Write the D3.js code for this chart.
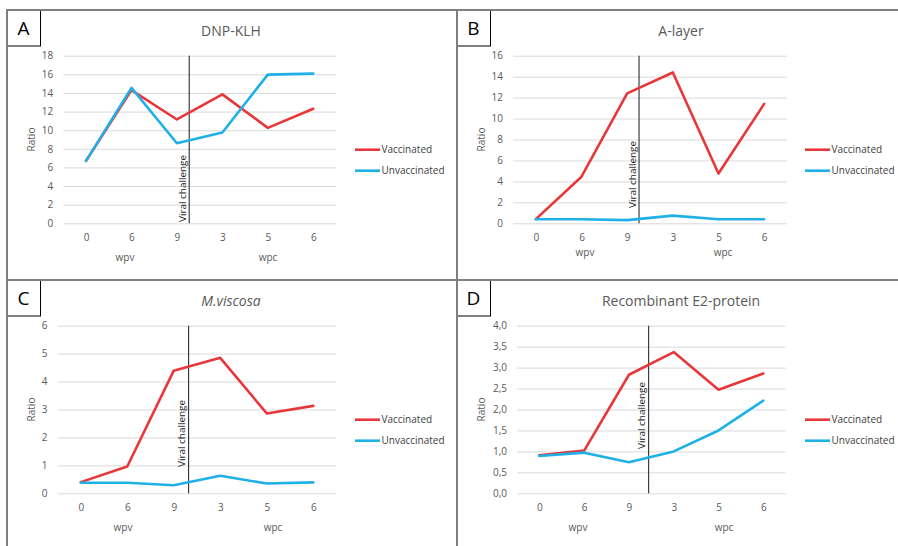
<!DOCTYPE html>
<html>
<head>
<meta charset="utf-8">
<script src="https://cdn.jsdelivr.net/npm/d3@7"></script>
<style>
  html, body { margin: 0; padding: 0; background: #fff; }
  svg { display: block; font-family: "Open Sans", "Liberation Sans", sans-serif; }
</style>
</head>
<body>
<svg id="chart" width="898" height="546"></svg>
<script>
// Sampling points: weeks post vaccination (wpv) then weeks post challenge (wpc)
const categories = ["0", "6", "9", "3", "5", "6"];
const seriesNames = ["Vaccinated", "Unvaccinated"];

// Antibody ratio per antigen
const dnpVaccinated = [6.7, 14.3, 11.15, 13.85, 10.25, 12.3];
const dnpUnvaccinated = [6.7, 14.55, 8.6, 9.75, 15.97, 16.07];
const alayerVaccinated = [0.4, 4.45, 12.4, 14.4, 4.75, 11.4];
const alayerUnvaccinated = [0.38, 0.38, 0.3, 0.73, 0.38, 0.38];
const viscosaVaccinated = [0.4, 0.96, 4.39, 4.85, 2.86, 3.13];
const viscosaUnvaccinated = [0.38, 0.38, 0.29, 0.63, 0.35, 0.39];
const e2Vaccinated = [0.91, 1.02, 2.83, 3.37, 2.47, 2.86];
const e2Unvaccinated = [0.89, 0.97, 0.74, 1.0, 1.5, 2.21];

// Axis maxima and tick steps
const yMax = [18, 16, 6, 4];
const yStep = [2, 2, 1, 0.5];

const panelLetters = ["A", "B", "C", "D"];
const panelTitles = ["DNP-KLH", "A-layer", "M.viscosa", "Recombinant E2-protein"];

const colors = { Vaccinated: "#e8373a", Unvaccinated: "#1fb0e8" };

// Layout of each panel (relative to its frame corner)
const layouts = [
  { ox: 7,   oy: 10,  left: 56.3, right: 329,   challengeAt: 2.27, challengeTextBottom: 212, wpvX: 118, wpcX: 261, axisTitleY: 247, italic: false, fmt: d3.format("d") },
  { ox: 457, oy: 10,  left: 56,   right: 330,   challengeAt: 2.26, challengeTextBottom: 198, wpvX: 128, wpcX: 266, axisTitleY: 242, italic: false, fmt: d3.format("d") },
  { ox: 7,   oy: 280, left: 50.5, right: 329.5, challengeAt: 2.32, challengeTextBottom: 187, wpvX: 116, wpcX: 266, axisTitleY: 247, italic: true,  fmt: d3.format("d") },
  { ox: 457, oy: 280, left: 60,   right: 328.7, challengeAt: 2.44, challengeTextBottom: 169, wpvX: 121, wpcX: 267, axisTitleY: 247, italic: false, fmt: v => d3.format(".1f")(v).replace(".", ",") }
];
const plotTop = 45.7, plotBottom = 213.3;

const series = [
  [dnpVaccinated, dnpUnvaccinated],
  [alayerVaccinated, alayerUnvaccinated],
  [viscosaVaccinated, viscosaUnvaccinated],
  [e2Vaccinated, e2Unvaccinated]
];

const svg = d3.select("#chart");

layouts.forEach((L, p) => {
  const g = svg.append("g").attr("transform", `translate(${L.ox},${L.oy})`);

  const x = d3.scalePoint().domain(d3.range(categories.length)).range([L.left, L.right]).padding(0.5);
  const y = d3.scaleLinear().domain([0, yMax[p]]).range([plotBottom, plotTop]);
  const ticks = d3.range(0, yMax[p] + yStep[p] / 2, yStep[p]);

  // Horizontal gridlines
  g.append("g")
    .attr("transform", `translate(${L.left},0)`)
    .call(d3.axisLeft(y).tickValues(ticks).tickSize(-(L.right - L.left)).tickFormat(""))
    .call(a => a.select(".domain").remove())
    .call(a => a.selectAll("line").attr("stroke", "#d9d9d9").attr("stroke-width", 1));

  // Y tick labels
  g.append("g")
    .attr("transform", `translate(${L.left},0)`)
    .call(d3.axisLeft(y).tickValues(ticks).tickSize(0).tickPadding(10).tickFormat(L.fmt))
    .call(a => a.select(".domain").remove())
    .call(a => a.selectAll("text").attr("fill", "#595959").attr("font-size", 10)
      .attr("font-family", "'Open Sans', sans-serif"));

  // X tick labels
  g.append("g")
    .attr("transform", `translate(0,${plotBottom})`)
    .call(d3.axisBottom(x).tickSize(0).tickPadding(11).tickFormat(i => categories[i]))
    .call(a => a.select(".domain").remove())
    .call(a => a.selectAll("text").attr("fill", "#595959").attr("font-size", 10)
      .attr("font-family", "'Open Sans', sans-serif"));

  // Period labels under the axis
  g.append("text").attr("x", L.wpvX).attr("y", L.axisTitleY).attr("dy", "0.35em")
    .attr("text-anchor", "middle").attr("fill", "#595959").attr("font-size", 10).text("wpv");
  g.append("text").attr("x", L.wpcX).attr("y", L.axisTitleY).attr("dy", "0.35em")
    .attr("text-anchor", "middle").attr("fill", "#595959").attr("font-size", 10).text("wpc");

  // Y axis title
  g.append("text")
    .attr("transform", `translate(24,${(plotTop + plotBottom) / 2}) rotate(-90)`)
    .attr("dy", "0.35em").attr("text-anchor", "middle")
    .attr("fill", "#595959").attr("font-size", 10).text("Ratio");

  // Chart title
  g.append("text").attr("x", 224).attr("y", 21).attr("dy", "0.35em")
    .attr("text-anchor", "middle").attr("fill", "#595959").attr("font-size", 14)
    .attr("font-style", L.italic ? "italic" : "normal")
    .text(panelTitles[p]);

  // Challenge marker
  const step = x.step();
  const cx = x(Math.floor(L.challengeAt)) + (L.challengeAt - Math.floor(L.challengeAt)) * step;
  g.append("line").attr("x1", cx).attr("x2", cx).attr("y1", plotTop).attr("y2", plotBottom)
    .attr("stroke", "#1a1a1a").attr("stroke-width", 1);
  g.append("text")
    .attr("transform", `translate(${cx - 6.5},${L.challengeTextBottom}) rotate(-90)`)
    .attr("dy", "0.35em").attr("fill", "#1a1a1a").attr("font-size", 9.5)
    .attr("textLength", 67).attr("lengthAdjust", "spacingAndGlyphs")
    .text("Viral challenge");

  // Series lines
  const line = d3.line().x((d, i) => x(i)).y(d => y(d));
  series[p].forEach((vals, s) => {
    g.append("path").datum(vals)
      .attr("fill", "none").attr("stroke", colors[seriesNames[s]])
      .attr("stroke-width", 2.6).attr("stroke-linejoin", "round").attr("stroke-linecap", "round")
      .attr("d", line);
  });

  // Legend
  seriesNames.forEach((name, s) => {
    const ly = 139.7 + s * 21;
    g.append("line").attr("x1", 348).attr("x2", 373).attr("y1", ly).attr("y2", ly)
      .attr("stroke", colors[name]).attr("stroke-width", 2.6);
    g.append("text").attr("x", 374.5).attr("y", ly).attr("dy", "0.35em")
      .attr("fill", "#404040").attr("font-size", 10).text(name);
  });

  // Panel letter box
  g.append("rect").attr("x", 0).attr("y", 0).attr("width", 33.5).attr("height", 36)
    .attr("fill", "#fff").attr("stroke", "#000").attr("stroke-width", 1);
  g.append("text").attr("x", 16.5).attr("y", 18.5).attr("dy", "0.35em")
    .attr("text-anchor", "middle").attr("fill", "#000").attr("font-size", 19)
    .text(panelLetters[p]);
});

// Panel frame lines
const frame = svg.append("g").attr("stroke", "#7f7f7f").attr("stroke-width", 2);
frame.append("line").attr("x1", 6).attr("x2", 898).attr("y1", 10).attr("y2", 10);
frame.append("line").attr("x1", 6).attr("x2", 898).attr("y1", 280).attr("y2", 280);
frame.append("line").attr("x1", 7).attr("x2", 7).attr("y1", 9).attr("y2", 546);
frame.append("line").attr("x1", 457).attr("x2", 457).attr("y1", 9).attr("y2", 546);
</script>
</body>
</html>
